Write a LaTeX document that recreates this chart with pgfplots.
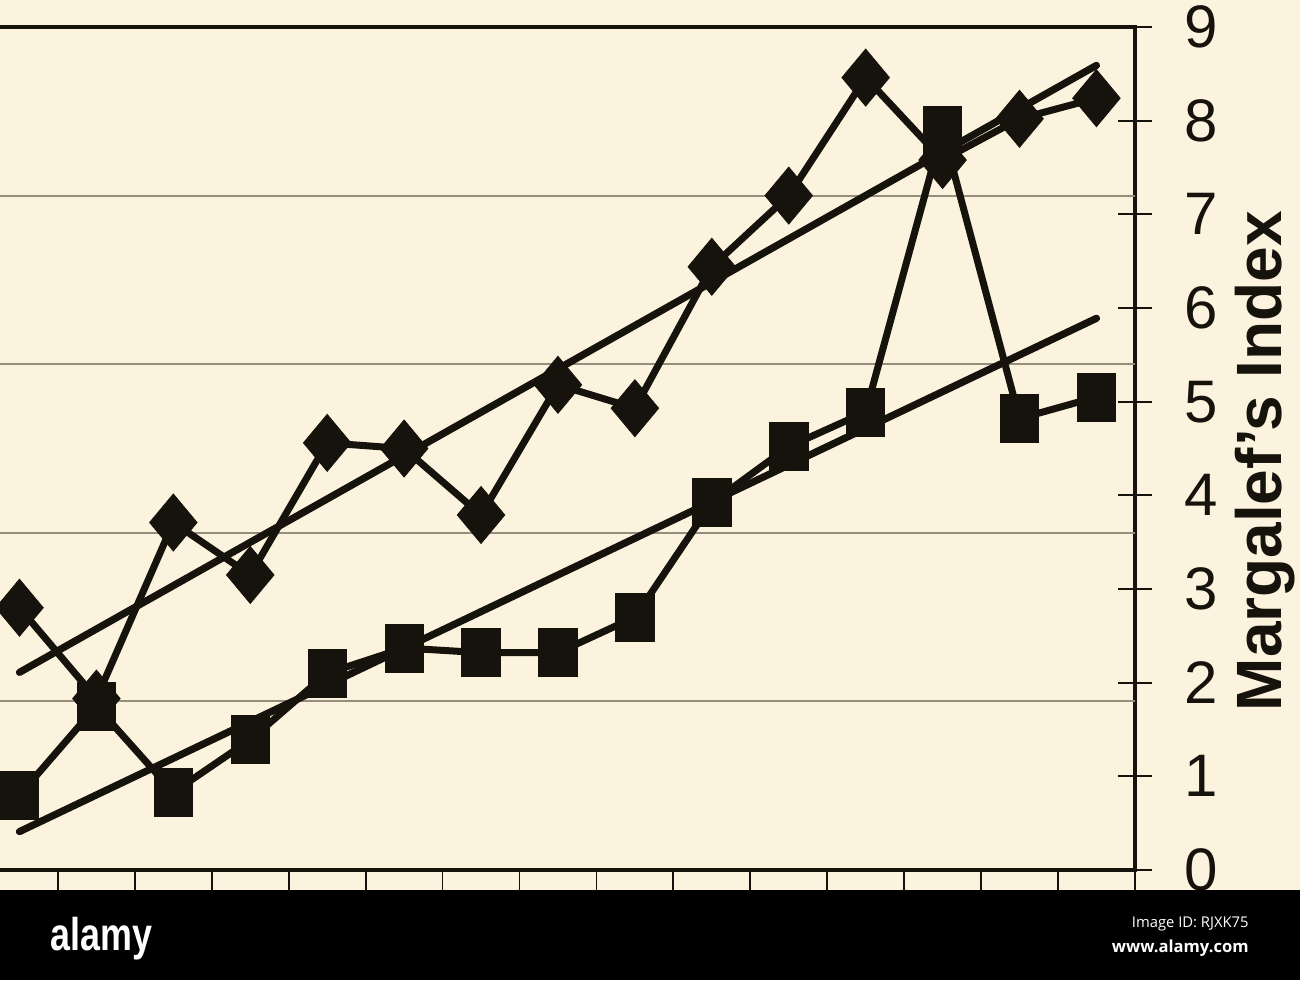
\documentclass[border=0pt]{standalone}
\usepackage{pgfplots}
\pgfplotsset{compat=1.18}
\usepackage{pgfplotstable}
\usepackage{graphicx}
\usepackage{fontspec}
\setmainfont{Liberation Sans}
\newfontfamily\osans{Open Sans}
\definecolor{cream}{RGB}{251,243,221}
\definecolor{ink}{RGB}{22,18,12}
\definecolor{gridc}{RGB}{150,142,125}

\pgfplotstableread{
c  d     s
1  2.80  0.80
2  1.83  1.75
3  3.71  0.83
4  3.15  1.39
5  4.56  2.10
6  4.50  2.37
7  3.79  2.32
8  5.18  2.32
9  4.93  2.70
10 6.44  3.92
11 7.20  4.52
12 8.46  4.89
13 7.58  7.90
14 8.02  4.82
15 8.24  5.05
}\data

\begin{document}
\begin{tikzpicture}[x=1pt,y=1pt]
\path[use as bounding box, clip] (0,0) rectangle (650,490);
\fill[cream] (0,0) rectangle (650,490);
\begin{axis}[
  at={(-47.95pt,55pt)}, anchor=south west,
  scale only axis, width=615.4pt, height=421.5pt,
  xmin=-0.5, xmax=15.5, ymin=0, ymax=9,
  axis line style={line width=1.6pt, draw=ink},
  xtick={0.5,1.5,...,15.5}, xticklabels={},
  xtick pos=bottom, xtick align=outside,
  ytick={0,1,...,9}, ytick pos=right, yticklabel pos=right, ytick align=center,
  major tick length=17pt,
  tick style={line width=0.9pt, draw=ink},
  extra y ticks={1.8,3.6,5.4,7.2}, extra y tick labels={},
  extra y tick style={grid=major, major tick length=0pt},
  major grid style={draw=gridc, line width=1pt},
  /pgf/number format/assume math mode=true,
  yticklabel style={font=\fontsize{30}{30}\selectfont, text=ink, anchor=west, xshift=13pt},
  clip=false,
]
\addplot[ink, line width=3.6pt, line cap=round] coordinates {(1,2.11) (15,8.59)};
\addplot[ink, line width=3.6pt, line cap=round] coordinates {(1,0.41) (15,5.89)};
\addplot[ink, line width=3.5pt, mark=square*, mark size=8.4pt,
  mark options={solid, line width=0.4pt, fill=ink, yscale=1.2, rotate=45}]
  table[x=c, y=d] {\data};
\addplot[ink, line width=3.5pt, mark=square*, mark size=9.6pt,
  mark options={solid, line width=0.4pt, fill=ink, yscale=1.25}]
  table[x=c, y=s] {\data};
\node[rotate=90, anchor=center, text=ink, font=\fontsize{32}{32}\selectfont\bfseries]
  at (rel axis cs:1.1056,0.485) {Margalef's Index};
\end{axis}
\fill[black] (0,0) rectangle (650,45);
\node[anchor=base west, inner sep=0pt, text=white, font=\fontsize{23}{23}\selectfont\bfseries]
  at (25,15) {\scalebox{0.78}[1]{alamy}};
\node[anchor=base east, inner sep=0pt, text=white, font=\osans\fontsize{7.4}{7.4}\selectfont]
  at (624.5,26.5) {Image ID: RJXK75};
\node[anchor=base east, inner sep=0pt, text=white, font=\osans\bfseries\fontsize{8.3}{8.3}\selectfont]
  at (624.5,14) {www.alamy.com};
\end{tikzpicture}
\end{document}
